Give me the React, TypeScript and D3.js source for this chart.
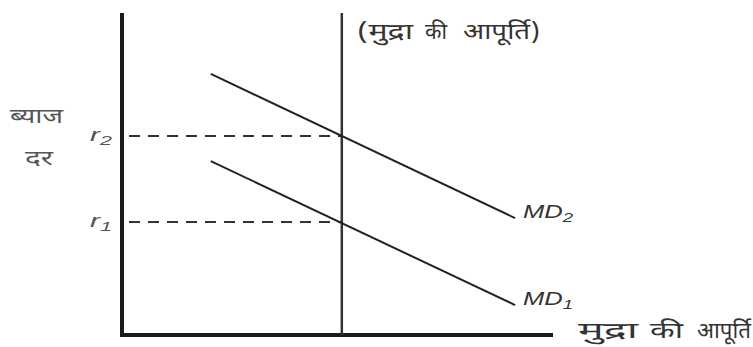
import React from "react";
import * as d3 from "d3";

const W = 753;
const H = 347;

// data coordinates (0-100 on both axes)
const md2: [number, number][] = [[20.6, 81.1], [91.2, 36.3]];
const md1: [number, number][] = [[20.6, 54.0], [91.2, 9.3]];
const supplyX = 51.0;
const rateNames = ["r", "r"];
const rateSubs = ["2", "1"];
const rateValues = [61.8, 35.1];
const curveNames = ["MD", "MD"];
const curveSubs = ["2", "1"];
const yLabelLines = ["ब्याज", "दर"];
const supplyLabelWords = ["(मुद्रा", "की", "आपूर्ति)"];
const xLabelWords = ["मुद्रा", "की", "आपूर्ति"];

const x = d3.scaleLinear().domain([0, 100]).range([122, 553]);
const y = d3.scaleLinear().domain([0, 100]).range([335, 13]);
const line = d3.line<[number, number]>().x((d) => x(d[0])).y((d) => y(d[1]));

const deva = "'Noto Sans Devanagari', 'Lohit Devanagari', 'Noto Serif Devanagari', 'FreeSerif', serif";
const latin = "Arial, 'Liberation Sans', sans-serif";

// layout (pixel boxes for stretched words)
const supplyWordBoxes = [[357, 56], [425, 22], [463, 77]];
const xWordBoxes = [[578, 60], [650, 33], [697, 54]];
const yLabelBoxes = [[10, 53, 123], [25, 28, 165]];

export default function App() {
  return (
    <svg width={W} height={H} style={{ position: "absolute", left: 0, top: 0, background: "#fff" }}>
      {/* axes */}
      <line x1={x(0)} y1={y(100)} x2={x(0)} y2={y(0)} stroke="#1a1a1a" strokeWidth={4} />
      <line x1={x(0) - 2} y1={y(0)} x2={x(100)} y2={y(0)} stroke="#1a1a1a" strokeWidth={4} />
      {/* money supply */}
      <line x1={x(supplyX)} y1={y(100)} x2={x(supplyX)} y2={y(0)} stroke="#333" strokeWidth={2.5} />
      {/* dashed rate lines */}
      {rateValues.map((v, i) => (
        <line key={"d" + i} x1={x(0) + 7} y1={y(v)} x2={x(supplyX)} y2={y(v)} stroke="#333" strokeWidth={2} strokeDasharray="11 8" />
      ))}
      {/* demand curves */}
      <path d={line(md2) ?? ""} fill="none" stroke="#222" strokeWidth={2} />
      <path d={line(md1) ?? ""} fill="none" stroke="#222" strokeWidth={2} />
      {/* rate labels */}
      {rateValues.map((v, i) => (
        <text key={"r" + i} x={90} y={y(v) + 5} fontFamily={latin} fontStyle="italic" fontSize={18} fill="#555"
          textLength={22} lengthAdjust="spacingAndGlyphs">
          {rateNames[i]}
          <tspan fontSize={13} dy={4}>{rateSubs[i]}</tspan>
        </text>
      ))}
      {/* curve labels */}
      {[md2, md1].map((c, i) => (
        <text key={"c" + i} x={x(c[1][0]) + 8} y={y(c[1][1])} fontFamily={latin} fontStyle="italic" fontSize={18} fill="#333"
          textLength={50} lengthAdjust="spacingAndGlyphs">
          {curveNames[i]}
          <tspan fontSize={13} dy={4}>{curveSubs[i]}</tspan>
        </text>
      ))}
      {/* y label */}
      {yLabelLines.map((t, i) => (
        <text key={t} x={yLabelBoxes[i][0]} y={yLabelBoxes[i][2]} fontFamily={deva} fontSize={21} fill="#555"
          textLength={yLabelBoxes[i][1]} lengthAdjust="spacingAndGlyphs">
          {t}
        </text>
      ))}
      {supplyLabelWords.map((t, i) => (
        <text key={"s" + i} x={supplyWordBoxes[i][0]} y={39} fontFamily={deva} fontSize={22} fill="#333"
          textLength={supplyWordBoxes[i][1]} lengthAdjust="spacingAndGlyphs">
          {t}
        </text>
      ))}
      {xLabelWords.map((t, i) => (
        <text key={"x" + i} x={xWordBoxes[i][0]} y={338} fontFamily={deva} fontSize={22} fill="#333"
          textLength={xWordBoxes[i][1]} lengthAdjust="spacingAndGlyphs">
          {t}
        </text>
      ))}
    </svg>
  );
}
